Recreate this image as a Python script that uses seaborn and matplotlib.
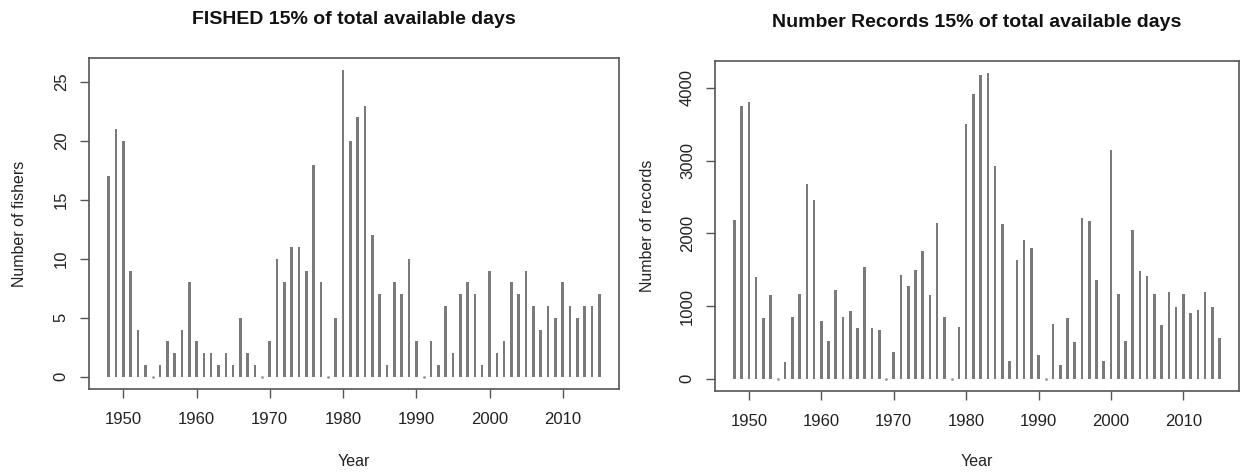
import numpy as np
import pandas as pd
import matplotlib
matplotlib.use("Agg")
import matplotlib.pyplot as plt
import seaborn as sns

years = np.arange(1948, 2016)
fishers = [17, 21, 20, 9, 4, 1, 0, 1, 3, 2,
           4, 8, 3, 2, 2, 1, 2, 1, 5, 2,
           1, 0, 3, 10, 8, 11, 11, 9, 18, 8,
           0, 5, 26, 20, 22, 23, 12, 7, 1, 8,
           7, 10, 3, 0, 3, 1, 6, 2, 7, 8,
           7, 1, 9, 2, 3, 8, 7, 9, 6, 4,
           6, 5, 8, 6, 5, 6, 6, 7]
records = [2180, 3745, 3805, 1405, 830, 1150, 0, 225, 855, 1170,
           2680, 2460, 795, 515, 1220, 855, 925, 695, 1540, 695,
           675, 0, 370, 1425, 1280, 1490, 1760, 1150, 2140, 855,
           0, 710, 3500, 3910, 4180, 4200, 2930, 2130, 240, 1630,
           1910, 1800, 330, 0, 755, 190, 840, 505, 2210, 2170,
           1360, 240, 3140, 1160, 520, 2050, 1485, 1410, 1170, 735,
           1195, 990, 1170, 900, 940, 1195, 990, 565]

titles = ["FISHED 15% of total available days",
          "Number Records 15% of total available days"]
ylabels = ["Number of fishers", "Number of records"]
xlabel = "Year"
xticks = [1950, 1960, 1970, 1980, 1990, 2000, 2010]
yticks_list = [[0, 5, 10, 15, 20, 25], [0, 1000, 2000, 3000, 4000]]

sns.set_theme(style="white")
plt.rcParams['font.family'] = ['Liberation Sans', 'DejaVu Sans']

fig = plt.figure(figsize=(12.41, 4.74), dpi=100)
W, H = 1241, 474
boxes = [(89, 58, 619, 389), (715, 61, 1239, 391)]
bar_color = "#7a7a7a"
spine_color = "#555555"

for i, (vals, box) in enumerate(zip([fishers, records], boxes)):
    x0, y0, x1, y1 = box
    ax = fig.add_axes([x0 / W, 1 - y1 / H, (x1 - x0) / W, (y1 - y0) / H])
    df = pd.DataFrame({"year": years, "value": vals})
    sns.barplot(data=df, x="year", y="value", native_scale=True, width=0.36,
                color=bar_color, saturation=1, errorbar=None, ax=ax,
                linewidth=0)
    zeros = df[df["value"] == 0]
    sns.scatterplot(data=zeros, x="year", y="value", s=4, color="#999999",
                    linewidth=0, ax=ax, legend=False)
    vmax = max(vals)
    ax.set_xlim(1948 - 67 * 0.04, 2015 + 67 * 0.04)
    ax.set_ylim(-vmax * 0.04, vmax * 1.04)
    ax.set_xticks(xticks)
    ax.set_xticklabels([str(t) for t in xticks])
    ax.set_yticks(yticks_list[i])
    ax.set_yticklabels([str(t) for t in yticks_list[i]], rotation=90, va="center")
    ax.tick_params(axis="both", direction="out", length=6.5, width=1,
                   color=spine_color, labelsize=12, labelcolor="#222222",
                   bottom=True, left=True)
    ax.tick_params(axis="x", pad=10)
    ax.tick_params(axis="y", pad=8)
    for s in ax.spines.values():
        s.set_visible(True)
        s.set_color(spine_color)
        s.set_linewidth(1.2)
    ax.set_xlabel(xlabel, fontsize=11.5, color="#222222")
    ax.set_ylabel(ylabels[i], fontsize=11.5, color="#222222")
    ax.xaxis.label.set_va("center")
    ax.yaxis.label.set_va("center")
    ah = y1 - y0
    aw = x1 - x0
    ax.xaxis.set_label_coords(0.5, -(462 - y1) / ah)
    ax.yaxis.set_label_coords(-(x0 - (20 if i == 0 else 647)) / aw, 0.5)
    ax.set_title(titles[i], fontsize=14, fontweight="bold", pad=24.5, color="#111111")
    ax.grid(False)

fig.savefig("out.png", dpi=100, facecolor="white")
